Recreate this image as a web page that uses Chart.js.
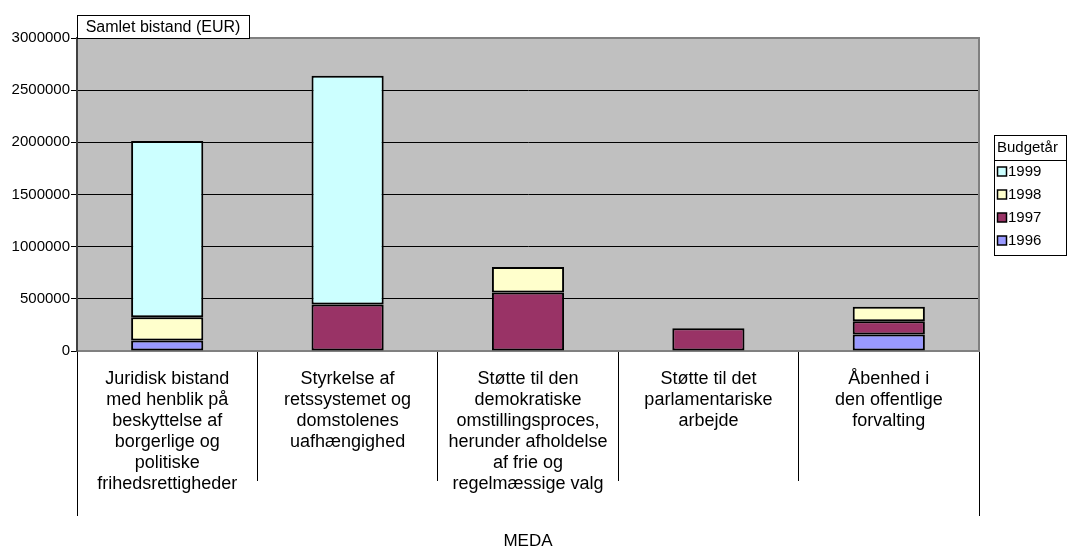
<!DOCTYPE html>
<html>
<head>
<meta charset="utf-8">
<script src="https://cdn.jsdelivr.net/npm/chart.js@4/dist/chart.umd.min.js"></script>
<style>
  html, body { margin: 0; padding: 0; background: #ffffff; overflow: hidden; }
  #c { display: block; }
</style>
</head>
<body>
<canvas id="c" width="1069" height="547"></canvas>
<script>
// Aid per MEDA programme area, split by budget year (EUR)
const categories = [
  ['Juridisk bistand', 'med henblik på', 'beskyttelse af', 'borgerlige og', 'politiske', 'frihedsrettigheder'],
  ['Styrkelse af', 'retssystemet og', 'domstolenes', 'uafhængighed'],
  ['Støtte til den', 'demokratiske', 'omstillingsproces,', 'herunder afholdelse', 'af frie og', 'regelmæssige valg'],
  ['Støtte til det', 'parlamentariske', 'arbejde'],
  ['Åbenhed i', 'den offentlige', 'forvalting']
];
const years = ['1996', '1997', '1998', '1999'];
const aid1996 = [100000, null, null, null, 158000];
const aid1997 = [null, 445000, 560000, 218000, 127000];
const aid1998 = [223000, null, 246000, null, 138000];
const aid1999 = [1690000, 2193000, null, null, null];
const yTicks = [0, 500000, 1000000, 1500000, 2000000, 2500000, 3000000];
const valueTitle = 'Samlet bistand (EUR)';
const legendTitle = 'Budgetår';
const groupTitle = 'MEDA';
const yearColors = ['#9999FF', '#993366', '#FFFFCC', '#CCFFFF'];

const FONT = "Arial, 'Liberation Sans', sans-serif";
const series = [aid1996, aid1997, aid1998, aid1999];

// Grey plot background, border, value caption box and the year legend
const decorations = {
  id: 'decorations',
  beforeDraw(chart) {
    const { ctx, chartArea: a } = chart;
    ctx.save();
    ctx.fillStyle = '#C0C0C0';
    ctx.fillRect(a.left, a.top, a.right - a.left, a.bottom - a.top);
    ctx.restore();
  },
  afterDraw(chart) {
    const { ctx, chartArea: a } = chart;
    const x = chart.scales.x;
    ctx.save();
    // top and right frame of the plot
    ctx.strokeStyle = '#808080';
    ctx.lineWidth = 2;
    ctx.beginPath();
    ctx.moveTo(a.left, a.top);
    ctx.lineTo(a.right, a.top);
    ctx.lineTo(a.right, a.bottom);
    ctx.stroke();

    // outer group brackets of the category axis
    ctx.strokeStyle = '#000';
    ctx.lineWidth = 1;
    ctx.beginPath();
    const l = Math.round(x.left) + 0.5, r = Math.round(x.right) + 0.5;
    ctx.moveTo(l, a.bottom + 128); ctx.lineTo(l, a.bottom + 165);
    ctx.moveTo(r, a.bottom + 128); ctx.lineTo(r, a.bottom + 165);
    ctx.stroke();

    // value caption box
    ctx.fillStyle = '#fff';
    ctx.fillRect(a.left, 15.5, 172, 23);
    ctx.strokeStyle = '#000';
    ctx.strokeRect(Math.round(a.left) + 0.5, 15.5, 172, 23);
    ctx.fillStyle = '#000';
    ctx.font = '16px ' + FONT;
    ctx.textAlign = 'center';
    ctx.textBaseline = 'middle';
    ctx.fillText(valueTitle, a.left + 86, 27.5);

    // legend
    const lx = 994.5, ly = 135.5, lw = 72, lh = 120;
    ctx.fillStyle = '#fff';
    ctx.fillRect(lx, ly, lw, lh);
    ctx.strokeRect(lx, ly, lw, lh);
    ctx.beginPath();
    ctx.moveTo(lx, 160.5); ctx.lineTo(lx + lw, 160.5);
    ctx.stroke();
    ctx.fillStyle = '#000';
    ctx.font = '15px ' + FONT;
    ctx.textAlign = 'left';
    ctx.fillText(legendTitle, 997, 148);
    const ds = chart.data.datasets.slice().reverse();
    ds.forEach((d, i) => {
      const cy = 171.5 + i * 23;
      ctx.fillStyle = d.backgroundColor;
      ctx.fillRect(997.5, cy - 4.5, 9, 9);
      ctx.strokeStyle = '#000';
      ctx.lineWidth = 1.5;
      ctx.strokeRect(997.5, cy - 4.5, 9, 9);
      ctx.fillStyle = '#000';
      ctx.fillText(d.label, 1008, cy + 0.5);
    });
    ctx.restore();
  }
};

new Chart(document.getElementById('c'), {
  type: 'bar',
  data: {
    labels: categories,
    datasets: years.map((y, i) => ({
      label: y,
      data: series[i],
      backgroundColor: yearColors[i],
      borderColor: '#000',
      borderWidth: 2,
      borderSkipped: false,
      barPercentage: 0.4,
      categoryPercentage: 1
    }))
  },
  options: {
    responsive: false,
    devicePixelRatio: 1,
    animation: false,
    layout: { padding: { top: 38, right: 90, left: 0, bottom: 0 } },
    plugins: {
      legend: { display: false },
      tooltip: { enabled: false }
    },
    scales: {
      x: {
        stacked: true,
        grid: {
          display: true,
          drawOnChartArea: false,
          offset: true,
          tickLength: 130,
          color: '#000',
          lineWidth: 1
        },
        border: { display: true, color: '#808080', width: 2 },
        ticks: {
          autoSkip: false,
          maxRotation: 0,
          minRotation: 0,
          padding: -112,
          color: '#000',
          font: { family: FONT, size: 18, lineHeight: 21 / 18 }
        },
        title: {
          display: true,
          text: groupTitle,
          color: '#000',
          font: { family: FONT, size: 17, lineHeight: 1 },
          padding: { top: 0, bottom: -3 }
        },
        afterFit(scale) { scale.height = 196; }
      },
      y: {
        stacked: true,
        min: 0,
        max: 3000000,
        grid: { color: '#000', lineWidth: 1, tickLength: 6 },
        border: { display: true, color: '#404040', width: 2 },
        ticks: {
          padding: 1,
          color: '#000',
          font: { family: FONT, size: 15 },
          callback: v => String(v)
        },
        afterBuildTicks(scale) { scale.ticks = yTicks.map(v => ({ value: v })); },
        afterFit(scale) { scale.width = 77; }
      }
    }
  },
  plugins: [decorations]
});
</script>
</body>
</html>
